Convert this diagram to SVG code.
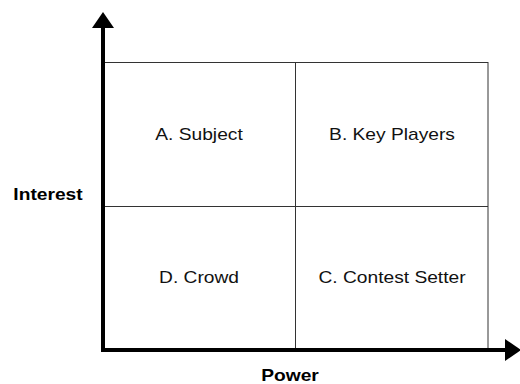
<svg xmlns="http://www.w3.org/2000/svg" width="520" height="384" viewBox="0 0 520 384">
  <style>
    .grid { stroke: #333; stroke-width: 1; fill: none; }
    .axis { stroke: #000; stroke-width: 4; fill: none; }
    .label { font-family: "Liberation Sans", Arial, sans-serif; font-size: 16px; fill: #111; text-anchor: middle; }
    .title { font-family: "Liberation Sans", Arial, sans-serif; font-size: 16px; font-weight: bold; fill: #000; text-anchor: middle; }
  </style>
  <defs>
    <marker id="arrow" viewBox="0 0 16 22" refX="0" refY="11" markerWidth="16" markerHeight="22" markerUnits="userSpaceOnUse" orient="auto">
      <path d="M0,0 L16,11 L0,22 Z" fill="#000"/>
    </marker>
  </defs>

  <!-- quadrant grid -->
  <g id="grid">
    <rect class="grid" x="103.5" y="62.5" width="384.5" height="288"/>
    <line class="grid" x1="295.5" y1="62.5" x2="295.5" y2="351"/>
    <line class="grid" x1="103.5" y1="206.5" x2="488" y2="206.5"/>
  </g>

  <!-- axes -->
  <g id="connectors">
    <line class="axis" x1="103" y1="352" x2="103" y2="28" marker-end="url(#arrow)"/>
    <line class="axis" x1="101" y1="350" x2="505" y2="350" marker-end="url(#arrow)"/>
  </g>

  <!-- labels use a slightly widened face -->
  <g id="quadrant-a"><text class="label" transform="translate(199,140) scale(1.2,1)">A. Subject</text></g>
  <g id="quadrant-b"><text class="label" transform="translate(392,140) scale(1.2,1)">B. Key Players</text></g>
  <g id="quadrant-d"><text class="label" transform="translate(199,283) scale(1.2,1)">D. Crowd</text></g>
  <g id="quadrant-c"><text class="label" transform="translate(392,283) scale(1.2,1)">C. Contest Setter</text></g>

  <g id="axis-labels">
    <text class="title" transform="translate(48,200) scale(1.2,1)">Interest</text>
    <text class="title" transform="translate(290,381) scale(1.2,1)">Power</text>
  </g>
</svg>
